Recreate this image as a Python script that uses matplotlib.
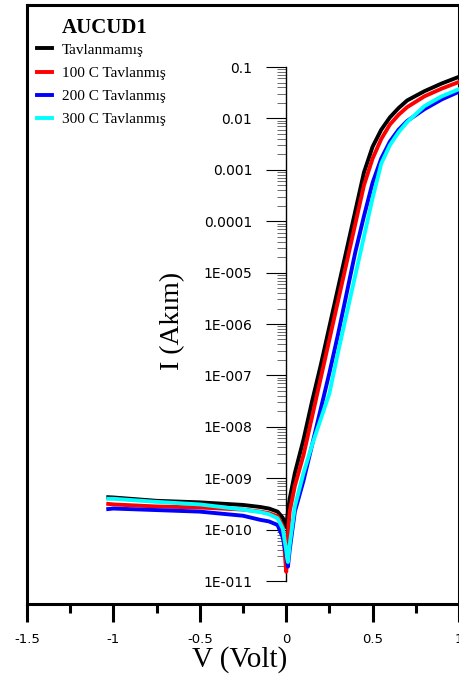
import numpy as np
import matplotlib
matplotlib.use('Agg')
import matplotlib.pyplot as plt
from matplotlib.lines import Line2D

# voltage grid (V) and log10 of current (A)
volts = [-1.03, -1.0, -0.75, -0.5, -0.25, -0.15, -0.1, -0.05, -0.02, 0.0,
         0.005, 0.01, 0.02, 0.05, 0.1, 0.15, 0.2, 0.25, 0.3, 0.35,
         0.4, 0.45, 0.5, 0.55, 0.6, 0.65, 0.7, 0.8, 0.9, 1.0]

log_i_tavlanmamis = [-9.37, -9.375, -9.44, -9.47, -9.52, -9.56, -9.59, -9.65, -9.77, -9.95,
                     -9.8, -9.65, -9.4, -8.9, -8.25, -7.5, -6.8, -6.05, -5.3, -4.55,
                     -3.8, -3.05, -2.55, -2.22, -1.98, -1.8, -1.65, -1.47, -1.32, -1.19]
log_i_100c = [-9.5, -9.51, -9.55, -9.57, -9.61, -9.65, -9.68, -9.74, -9.93, -10.82,
              -10.6, -10.1, -9.65, -9.15, -8.55, -7.8, -7.05, -6.3, -5.55, -4.8,
              -4.05, -3.3, -2.78, -2.4, -2.12, -1.93, -1.78, -1.57, -1.42, -1.29]
log_i_200c = [-9.6, -9.59, -9.62, -9.65, -9.73, -9.81, -9.84, -9.91, -10.15, -10.5,
              -10.62, -10.72, -10.4, -9.65, -9.05, -8.35, -7.65, -6.95, -6.2, -5.4,
              -4.6, -3.9, -3.25, -2.78, -2.45, -2.22, -2.05, -1.82, -1.63, -1.48]
log_i_300c = [-9.4, -9.4, -9.46, -9.51, -9.61, -9.66, -9.7, -9.78, -9.98, -10.4,
              -10.55, -10.63, -10.3, -9.55, -8.9, -8.35, -7.85, -7.35, -6.55, -5.8,
              -5.05, -4.3, -3.55, -2.88, -2.52, -2.27, -2.07, -1.76, -1.57, -1.43]

series_labels = ['Tavlanmamış', '100 C Tavlanmış', '200 C Tavlanmış', '300 C Tavlanmış']
series_colors = ['#000000', '#ff0000', '#0000ff', '#00ffff']
legend_title = 'AUCUD1'

y_tick_values = [1e-1, 1e-2, 1e-3, 1e-4, 1e-5, 1e-6, 1e-7, 1e-8, 1e-9, 1e-10, 1e-11]
y_tick_labels = ['0.1', '0.01', '0.001', '0.0001', '1E-005', '1E-006', '1E-007',
                 '1E-008', '1E-009', '1E-010', '1E-011']
x_tick_values = [-1.5, -1.0, -0.5, 0.0, 0.5, 1.0]
x_tick_labels = ['-1.5', '-1', '-0.5', '0', '0.5', '1']
x_minor_values = [-1.25, -0.75, -0.25, 0.25, 0.75]

SERIF = 'Liberation Serif'
SANS = 'DejaVu Sans'


def plot_iv():
    fig = plt.figure(figsize=(4.6, 6.8), dpi=100)
    ax = fig.add_axes([27 / 460, 76 / 680, 432 / 460, 599 / 680])

    ax.set_yscale('log')
    ax.set_xlim(-1.5, 1.0)
    ax.set_ylim(3.57e-12, 1.61)

    curves = [log_i_tavlanmamis, log_i_100c, log_i_200c, log_i_300c]
    handles = []
    for logs, color in zip(curves, series_colors):
        ax.plot(volts, 10 ** np.array(logs), color=color, lw=2.8,
                solid_joinstyle='round', zorder=3)
        handles.append(Line2D([], [], color=color, lw=2.8))

    # frame: thick outer box, thin y axis through V = 0
    for side in ['top', 'right', 'bottom']:
        ax.spines[side].set_linewidth(2.2)
    ax.spines['left'].set_position(('data', 0))
    ax.spines['left'].set_bounds(1e-11, 1e-1)
    ax.spines['left'].set_linewidth(1.0)
    ax.plot([0, 0], [0, 1], transform=ax.transAxes, color='k', lw=2.2,
            clip_on=False, solid_capstyle='projecting')

    ax.set_yticks(y_tick_values, y_tick_labels)
    minor = [k * 10.0 ** d for d in range(-11, -1) for k in range(2, 10)]
    ax.set_yticks(minor, minor=True)
    ax.set_yticklabels([], minor=True)
    ax.tick_params(axis='y', which='major', direction='out', length=14.5,
                   width=0.8, pad=10, labelsize=10)
    ax.tick_params(axis='y', which='minor', direction='out', length=6.5,
                   width=0.6, color='#555555')

    ax.set_xticks(x_tick_values, x_tick_labels)
    ax.set_xticks(x_minor_values, minor=True)
    ax.tick_params(axis='x', which='major', direction='out', length=12.7,
                   width=2.2, pad=8, labelsize=9.5)
    ax.tick_params(axis='x', which='minor', direction='out', length=6.7,
                   width=2.2)
    for lab in ax.get_xticklabels() + ax.get_yticklabels():
        lab.set_family(SANS)

    ax.text(0.366, 0.4725, 'I (Akım)', transform=ax.transAxes, rotation=90,
            ha='right', va='center', fontsize=20, family=SERIF)
    fig.text(240 / 460, 1 - 660 / 680, 'V (Volt)', ha='center', va='center',
             fontsize=21, family=SERIF)

    # legend title drawn on its own so the gap to the entries can be set
    fig.text(105 / 460, 1 - 28 / 680, legend_title, ha='center', va='center',
             fontsize=15, fontweight='bold', family=SERIF)
    ax.legend(handles, series_labels, loc='upper left',
              bbox_to_anchor=(37 / 460, 1 - 43 / 680),
              bbox_transform=fig.transFigure, frameon=False,
              prop={'family': SERIF, 'size': 11},
              handlelength=1.0, handletextpad=0.65, labelspacing=0.62,
              borderpad=0, borderaxespad=0)

    fig.savefig('out.png', dpi=100)
    plt.close(fig)


def main():
    plot_iv()


if __name__ == '__main__':
    main()
